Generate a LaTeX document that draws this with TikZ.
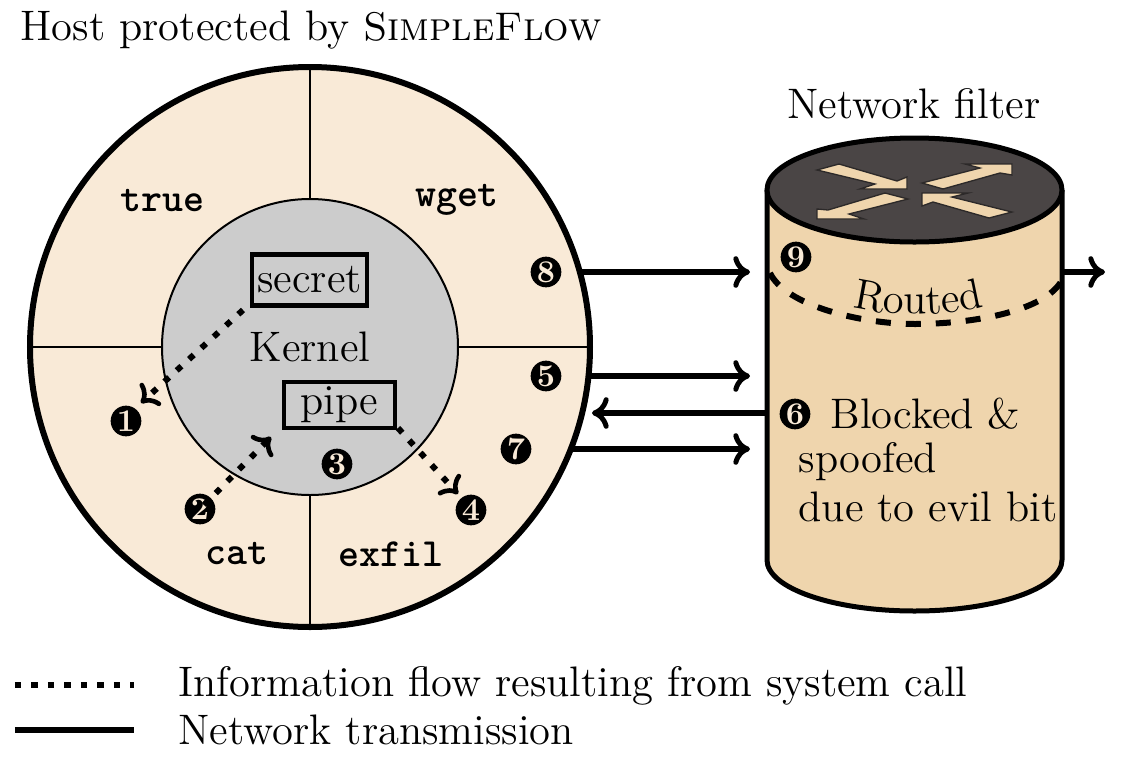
\documentclass[tikz,border=0pt]{standalone}
\usetikzlibrary{arrows.meta,decorations.text}
\definecolor{peach}{HTML}{F9EAD7}
\definecolor{kern}{HTML}{CCCCCC}
\definecolor{tan1}{HTML}{EFD5AD}
\definecolor{dark}{HTML}{4A4545}
\tikzset{
  x=0.3pt,y=-0.3pt,
  every node/.style={font=\fontsize{12.8}{14}\selectfont},
  lab/.style={inner sep=0pt,anchor=center},
  prog/.style={inner sep=0pt,anchor=center,font=\fontsize{12}{14}\selectfont\ttfamily\bfseries},
  numb/.style={circle,fill=black,text=peach,inner sep=0pt,minimum size=9.2pt,font=\fontsize{9.5}{9.5}\selectfont\bfseries},
  res/.style={draw=black,line width=1.3pt,inner sep=0pt,anchor=center},
  net/.style={line width=1.8pt,-{Computer Modern Rightarrow[length=5pt,width=9.5pt,line width=1.5pt]}},
  flow/.style={line width=1.8pt,dash pattern=on 1.9pt off 3.1pt,-{Computer Modern Rightarrow[length=4.5pt,width=9pt,line width=1.4pt,sep=0pt]}},
  bar/.style={draw=dark!60!black,line width=0.4pt,fill=tan1},
}
\begin{document}
\begin{tikzpicture}
\useasboundingbox (0,0) rectangle (1140,762);
% host
\node[lab,anchor=west] (host) at (20,30) {Host protected by {\fontsize{12}{14}\selectfont\textsc{SimpleFlow}}};
\fill[peach] (310,347) circle [radius=280];
\draw[line width=0.6pt] (310,67) -- (310,627) (30,347) -- (590,347);
\draw[line width=0.6pt,fill=kern] (310,347) circle [radius=148];
\draw[line width=1.8pt] (310,347) circle [radius=280];
\node[prog] (ntrue) at (163,201) {true};
\node[prog] (nwget) at (457,200) {wget};
\node[prog] (ncat) at (237,554) {cat};
\node[prog] (nexfil) at (391,554) {exfil};
\node[lab] (kernel) at (310,347) {Kernel};
\node[res,minimum width=34.5pt,minimum height=15.3pt] (secret) at (309.5,280) {\raisebox{-0.6pt}{secret}};
\node[res,minimum width=33.3pt,minimum height=13.8pt] (pipe) at (339.5,405) {\raisebox{-0.6pt}{pipe}};
% numbers
\node[numb] (n1) at (126,421) {1};
\node[numb] (n2) at (200,509) {2};
\node[numb] (n3) at (337,464) {3};
\node[numb] (n4) at (471,510) {4};
\node[numb] (n5) at (546,376) {5};
\node[numb] (n7) at (516,449) {7};
\node[numb] (n8) at (546,272) {8};
% flows
\coordinate (s1) at (243,310);
\coordinate (t1) at (141,403);
\coordinate (s2) at (204,505);
\coordinate (t2) at (271,437);
\coordinate (s3) at (398,428);
\coordinate (t3) at (458,494);
\draw[flow] (s1) -- (t1);
\draw[flow] (s2) -- (t2);
\draw[flow] (s3) -- (t3);
% cylinder
\path[fill=tan1] (767,190) -- (767,560) .. controls (767,588) and (833,611) .. (914.5,611) .. controls (996,611) and (1062,588) .. (1062,560) -- (1062,190) -- cycle;
\draw[line width=1.5pt] (767,190) -- (767,560) .. controls (767,588) and (833,611) .. (914.5,611) .. controls (996,611) and (1062,588) .. (1062,560) -- (1062,190);
\draw[line width=1.5pt,fill=dark] (914.5,190) ellipse [x radius=147.5,y radius=52];
\draw[bar] (817,170) -- (839,164) -- (897,181) -- (907,177) -- (907,189) -- (860,189) -- (875,184) -- cycle;
\draw[bar] (922,183) -- (943,189) -- (1000,173) -- (1012,175) -- (1012,164) -- (965,164) -- (980,168) -- cycle;
\draw[bar] (908,199) -- (885,193) -- (828,210) -- (817,209) -- (817,219) -- (864,219) -- (849,214) -- cycle;
\draw[bar] (1012,212) -- (989,218) -- (933,202) -- (922,206) -- (922,193) -- (968,193) -- (952,197) -- cycle;
\node[lab] (filter) at (914,104) {Network filter};
\node[numb] (n9) at (796,257) {9};
\node[numb] (n6) at (795,414) {6};
\draw[line width=1.8pt,dash pattern=on 4.5pt off 4.5pt] (770,273) .. controls (785,305) and (860,324) .. (915,324) .. controls (970,324) and (1045,312) .. (1062,280);
\path[postaction={decorate},decoration={text along path,text align=center,text={|\fontsize{12.8}{14}\selectfont|Routed}}] (848,305) .. controls (883,317) and (953,317) .. (988,305);
\node[lab,anchor=west] (blocked) at (830,414) {Blocked \&};
\node[lab,anchor=west] (spoofed) at (798,462) {spoofed};
\node[lab,anchor=west] (evil) at (798,507) {due to evil bit};
% network
\coordinate (a8) at (582,272); \coordinate (b8) at (750,272);
\coordinate (a5) at (590,376); \coordinate (b5) at (750,376);
\coordinate (a6) at (765,413); \coordinate (b6) at (592,413);
\coordinate (a7) at (570,449); \coordinate (b7) at (750,449);
\coordinate (a9) at (1062,272); \coordinate (b9) at (1105,272);
\draw[net] (a8) -- (b8);
\draw[net] (a5) -- (b5);
\draw[net] (a6) -- (b6);
\draw[net] (a7) -- (b7);
\draw[net] (a9) -- (b9);
% legend
\coordinate (l1) at (15,685); \coordinate (l2) at (134,685);
\coordinate (l3) at (15,730); \coordinate (l4) at (134,730);
\draw[line width=1.8pt,dash pattern=on 1.95pt off 3pt] (l1) -- (l2);
\draw[line width=1.8pt] (l3) -- (l4);
\node[lab,anchor=west] (leg1) at (178,686) {Information flow resulting from system call};
\node[lab,anchor=west] (leg2) at (178,730) {Network transmission};
\end{tikzpicture}
\end{document}
